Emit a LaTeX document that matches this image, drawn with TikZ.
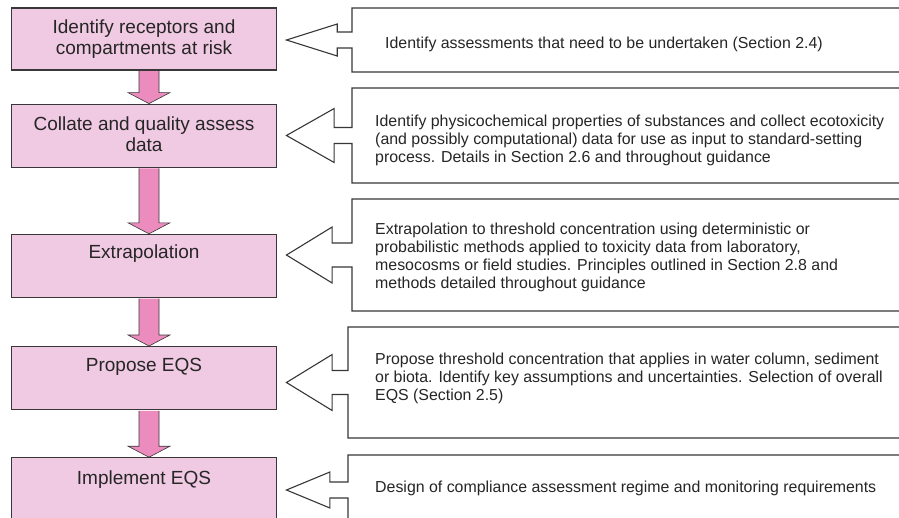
\documentclass[tikz,border=0pt]{standalone}
\usepackage{fontspec}
\setmainfont{Liberation Sans}
\usetikzlibrary{shapes,shapes.arrows,positioning}
\usepackage{color}

\definecolor{boxpink}{RGB}{240,201,226}
\definecolor{arrowpink}{RGB}{236,140,190}
\definecolor{edgegray}{RGB}{55,55,55}

\begin{document}
\begin{tikzpicture}[
            x=1pt, y=-1pt,
            stepbox/.style={draw=edgegray, line width=1.2pt, fill=boxpink, rectangle, minimum width=265, minimum height=63, inner sep=0},
            steptext/.style={align=center, inner sep=0, font=\fontsize{19}{21}\selectfont, text=black!85},
            notebox/.style={arrow box, draw=edgegray, line width=1.1pt, fill=white, minimum width=578, inner sep=0,
                arrow box head indent=0pt, arrow box north arrow=-1pt, arrow box south arrow=-1pt, arrow box east arrow=-1pt},
            notetext/.style={align=left, anchor=north west, inner sep=0, font=\fontsize{15.9}{18}\selectfont, text=black!85},
            flowto/.style={fill=arrowpink, draw=edgegray, line width=0.6pt,
                to path={([xshift=-10pt]\tikztostart) -- ([xshift=-10pt,yshift=11pt]\tikztotarget)
                  -- ([xshift=-21pt,yshift=11pt]\tikztotarget) -- (\tikztotarget)
                  -- ([xshift=21pt,yshift=11pt]\tikztotarget) -- ([xshift=10pt,yshift=11pt]\tikztotarget)
                  -- ([xshift=10pt]\tikztostart)}}
  ]

  \useasboundingbox (0,0) rectangle (899,517);
  \clip (0,0) rectangle (899,517);

  \node[stepbox, minimum height=62] (b1) at (144,39) {};
  \node[stepbox] (b2) [below=33pt of b1] {};
  \node[stepbox] (b3) [below=66pt of b2] {};
  \node[stepbox] (b4) [below=48pt of b3] {};
  \node[stepbox, minimum height=80] (b5) [below=47pt of b4] {};

  \node[steptext] (t1) [below=12pt of b1.north] {Identify receptors and\\compartments at risk};
  \node[steptext] (t2) [below=13pt of b2.north] {Collate and quality assess\\data};
  \node[steptext] (t3) [below=11pt of b3.north] {Extrapolation};
  \node[steptext] (t4) [below=12pt of b4.north] {Propose EQS};
  \node[steptext] (t5) [below=13pt of b5.north] {Implement EQS};

  \draw[flowto] ([xshift=5pt,yshift=-0.6pt]b1.south) to ([xshift=5pt]b2.north);
  \draw[flowto] ([xshift=5pt,yshift=-0.6pt]b2.south) to ([xshift=5pt]b3.north);
  \draw[flowto] ([xshift=5pt,yshift=-0.6pt]b3.south) to ([xshift=5pt]b4.north);
  \draw[flowto] ([xshift=5pt,yshift=-0.6pt]b4.south) to ([xshift=5pt]b5.north);

  \node[notebox, minimum height=64, arrow box west arrow=65pt, arrow box shaft width=16pt,
        arrow box head extend=8pt, arrow box tip angle=35] (c1) at (641,40) {};
  \node[notebox, minimum height=95, arrow box west arrow=65pt, arrow box shaft width=16pt,
        arrow box head extend=19pt, arrow box tip angle=59] (c2) at (641,135.5) {};
  \node[notebox, minimum height=112, arrow box west arrow=65pt, arrow box shaft width=24pt,
        arrow box head extend=16pt, arrow box tip angle=63] (c3) at (641,255) {};
  \node[notebox, minimum height=111, arrow box west arrow=61pt, arrow box shaft width=24pt,
        arrow box head extend=16pt, arrow box tip angle=63] (c4) at (637,382.5) {};
  \node[notebox, minimum height=70, arrow box west arrow=61pt, arrow box shaft width=16pt,
        arrow box head extend=10pt, arrow box tip angle=45] (c5) at (637,490) {};

  \node[notetext] (n1) at (385,37) {Identify assessments that need to be undertaken (Section 2.4)};
  \node[notetext] (n2) at (375,115) {Identify physicochemical properties of substances and collect ecotoxicity\\(and possibly computational) data for use as input to standard-setting\\process. Details in Section 2.6 and throughout guidance};
  \node[notetext] (n3) at (375,223) {Extrapolation to threshold concentration using deterministic or\\probabilistic methods applied to toxicity data from laboratory,\\mesocosms or field studies. Principles outlined in Section 2.8 and\\methods detailed throughout guidance};
  \node[notetext] (n4) at (375,353) {Propose threshold concentration that applies in water column, sediment\\or biota. Identify key assumptions and uncertainties. Selection of overall\\EQS (Section 2.5)};
  \node[notetext] (n5) at (375,481) {Design of compliance assessment regime and monitoring requirements};

\end{tikzpicture}
\end{document}
